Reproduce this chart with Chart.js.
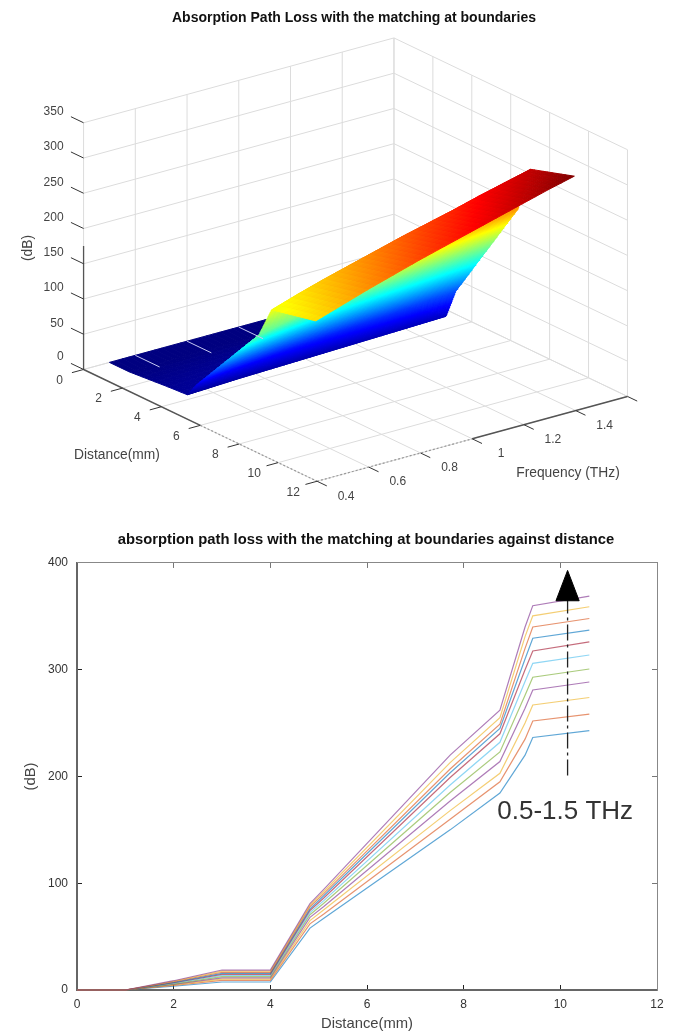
<!DOCTYPE html>
<html>
<head>
<meta charset="utf-8">
<title>Absorption Path Loss</title>
<script src="https://cdn.jsdelivr.net/npm/chart.js@4/dist/chart.umd.min.js"></script>
<style>
  html, body { margin: 0; padding: 0; background: #fff; width: 685px; height: 1033px; overflow: hidden; }
  canvas { position: absolute; left: 0; filter: blur(0.35px); }
  #surfaceChart { top: 0; }
  #lossChart { top: 510px; }
</style>
</head>
<body>
<canvas id="surfaceChart" width="708" height="510" style="width:708px;height:510px"></canvas>
<canvas id="lossChart" width="732" height="523" style="width:732px;height:523px"></canvas>
<script>
const surfaceDistance = [0, 1, 3, 4, 4.5, 7.7, 8.35, 10.6];
const surfaceFreq = [0.5, 0.6, 0.7, 0.8, 0.9, 1, 1.1, 1.2, 1.3, 1.4, 1.5];
const surfaceF05 = [0, 0, 5, 7, 28, 141, 185, 199];
const surfaceF06 = [0, 0, 6, 8.5, 33, 150, 197, 211];
const surfaceF07 = [0, 0, 7, 10, 37, 158, 208, 223];
const surfaceF08 = [0, 0, 8, 11, 41, 166, 218, 234];
const surfaceF09 = [0, 0, 9, 12, 44, 174, 228, 245];
const surfaceF10 = [0, 0, 9.5, 13, 47, 182, 238, 255];
const surfaceF11 = [0, 0, 10, 14, 50, 189, 247, 265];
const surfaceF12 = [0, 0, 10.5, 15, 52, 196, 256, 275];
const surfaceF13 = [0, 0, 11, 16, 55, 203, 266, 285];
const surfaceF14 = [0, 0, 11.5, 17, 58, 211, 275, 295];
const surfaceF15 = [0, 0, 12, 18, 60, 219, 284, 304];
const surfaceRows = [surfaceF05, surfaceF06, surfaceF07, surfaceF08, surfaceF09, surfaceF10,
  surfaceF11, surfaceF12, surfaceF13, surfaceF14, surfaceF15];

const zTicks = [0, 50, 100, 150, 200, 250, 300, 350];
const distanceTicks = [0, 2, 4, 6, 8, 10, 12];
const freqTicks = [0.4, 0.6, 0.8, 1, 1.2, 1.4, 1.6];

// ---- bottom plot: one array per frequency, lowest curve first ----
const lossDistance = [0, 1, 2, 3, 4, 4.82, 5.1, 7.72, 8.75, 9.27, 9.43, 10.6];
const loss05 = [0, 0, 3.5, 7.5, 7.5, 58, 67, 150, 184.5, 220, 236.5, 243];
const loss06 = [0, 0, 4.2, 9, 9, 62, 71, 160, 195, 235, 252, 258.4];
const loss07 = [0, 0, 4.8, 10.2, 10.2, 65, 75, 168, 203, 250, 267, 274];
const loss08 = [0, 0, 5.3, 11.4, 11.4, 68, 78, 177, 214, 264, 281, 288.5];
const loss09 = [0, 0, 5.8, 12.5, 12.5, 70.5, 81, 185, 223, 276, 293, 300.7];
const loss10 = [0, 0, 6.3, 13.6, 13.6, 72.5, 83.5, 192, 232, 289, 306, 313.8];
const loss11 = [0, 0, 6.8, 14.6, 14.6, 74.5, 86, 199, 240, 300, 317.6, 326];
const loss12 = [0, 0, 7.2, 15.6, 15.6, 76, 88, 203.5, 245, 310, 329.5, 337];
const loss13 = [0, 0, 7.7, 16.6, 16.6, 78, 90, 207, 249, 320, 340, 348];
const loss14 = [0, 0, 8.2, 17.6, 17.6, 79.5, 92, 213, 255, 331, 350.5, 359];
const loss15 = [0, 0, 8.7, 18.7, 18.7, 81, 94, 220, 262, 340, 360, 369];
const lossSeries = [loss05, loss06, loss07, loss08, loss09, loss10, loss11, loss12, loss13, loss14, loss15];
const lineColors = ['#0072BD', '#D95319', '#EDB120', '#7E2F8E', '#77AC30', '#4DBEEE', '#A2142F',
  '#0072BD', '#D95319', '#EDB120', '#7E2F8E'];

const arrowX = [10.15, 10.15];
const arrowY = [201, 365];
const arrowHeadX = [9.91, 10.15, 10.39];
const arrowHeadY = [364.6, 393, 364.6];

const LABEL_FONT = '"Liberation Sans", Arial, sans-serif';

// view of the 3D box: where the axes end up in the picture
const BOX = { x0: 83, y0: 370, dx: 19.5, dy: 9.33, fx: 259.2, fy: -70.8, zy: 0.706 };

function project(d, f, z) {
  return {
    x: BOX.x0 + d * BOX.dx + (f - 0.4) * BOX.fx,
    y: BOX.y0 + d * BOX.dy + (f - 0.4) * BOX.fy - z * BOX.zy
  };
}

function jet(t) {
  t = Math.max(0, Math.min(1, t));
  const ch = v => Math.round(255 * Math.max(0, Math.min(1, v)));
  return `rgb(${ch(1.5 - Math.abs(4 * t - 3))},${ch(1.5 - Math.abs(4 * t - 2))},${ch(1.5 - Math.abs(4 * t - 1))})`;
}

function segment(a, b, color, width, dash) {
  return {
    data: [a, b], showLine: true, borderColor: color, borderWidth: width,
    borderDash: dash || [], pointRadius: 0, fill: false
  };
}

function boxLines() {
  const out = [];
  const grid = '#dcdcdc';
  for (const z of zTicks) {
    out.push(segment(project(0, 0.4, z), project(0, 1.6, z), grid, 1));
    out.push(segment(project(0, 1.6, z), project(12, 1.6, z), grid, 1));
  }
  for (const f of freqTicks) {
    out.push(segment(project(0, f, 0), project(0, f, 350), grid, 1));
    out.push(segment(project(0, f, 0), project(12, f, 0), grid, 1));
  }
  for (const d of distanceTicks) {
    out.push(segment(project(d, 1.6, 0), project(d, 1.6, 350), grid, 1));
    out.push(segment(project(d, 0.4, 0), project(d, 1.6, 0), grid, 1));
  }
  return out;
}

// split every mesh cell so the colour runs smoothly with height; far cells first
function surfaceCells() {
  const out = [];
  const zMax = 304;
  const fSplit = 4;
  const lerp = (a, b, t) => a + (b - a) * t;
  const zAt = (r, j, s) => lerp(surfaceRows[r][j], surfaceRows[r][j + 1], s);
  for (let j = 0; j < surfaceDistance.length - 1; j++) {
    const rise = surfaceF15[j + 1] - surfaceF15[j];
    const dSplit = Math.max(1, Math.ceil(rise / 2));
    for (let k = 0; k < dSplit; k++) {
      const s0 = k / dSplit, s1 = (k + 1) / dSplit;
      const d0 = lerp(surfaceDistance[j], surfaceDistance[j + 1], s0);
      const d1 = lerp(surfaceDistance[j], surfaceDistance[j + 1], s1);
      for (let r = surfaceFreq.length - 2; r >= 0; r--) {
        for (let m = fSplit - 1; m >= 0; m--) {
          const u0 = m / fSplit, u1 = (m + 1) / fSplit;
          const f0 = lerp(surfaceFreq[r], surfaceFreq[r + 1], u0);
          const f1 = lerp(surfaceFreq[r], surfaceFreq[r + 1], u1);
          const z00 = lerp(zAt(r, j, s0), zAt(r + 1, j, s0), u0);
          const z01 = lerp(zAt(r, j, s0), zAt(r + 1, j, s0), u1);
          const z10 = lerp(zAt(r, j, s1), zAt(r + 1, j, s1), u0);
          const z11 = lerp(zAt(r, j, s1), zAt(r + 1, j, s1), u1);
          const color = jet((z00 + z01 + z10 + z11) / 4 / zMax);
          out.push({
            data: [project(d0, f0, z00), project(d0, f1, z01), project(d1, f1, z11), project(d1, f0, z10), project(d0, f0, z00)],
            showLine: true, borderColor: color, borderWidth: 1, backgroundColor: color,
            pointRadius: 0, fill: 'shape'
          });
        }
      }
    }
  }
  return out;
}

function axisLines() {
  const out = [];
  const dark = '#555';
  const light = '#999';
  out.push(segment(project(0, 0.4, 0), project(0, 0.4, 175), dark, 1.3));
  out.push(segment(project(0, 0.4, 0), project(6, 0.4, 0), dark, 1.5));
  out.push(segment(project(6, 0.4, 0), project(12, 0.4, 0), light, 1.2, [2, 2]));
  out.push(segment(project(12, 0.4, 0), project(12, 1, 0), light, 1.2, [2, 2]));
  out.push(segment(project(12, 1, 0), project(12, 1.6, 0), dark, 1.5));
  for (const z of zTicks) out.push(segment(project(0, 0.4, z), project(-0.65, 0.4, z), '#333', 1));
  for (const d of distanceTicks) out.push(segment(project(d, 0.4, 0), project(d, 0.355, 0), '#333', 1));
  for (const f of freqTicks) out.push(segment(project(12, f, 0), project(12.5, f, 0), '#333', 1));
  // floor grid poking through the flat part of the surface
  for (const f of [0.6, 0.8, 1]) out.push(segment(project(0, f, 0), project(1.25, f, 0), '#c5c8f2', 1));
  return out;
}

const surfaceLabels = {
  id: 'surfaceLabels',
  afterDraw(chart) {
    const { ctx, scales } = chart;
    const put = (text, p, dx, dy) => ctx.fillText(text, scales.x.getPixelForValue(p.x + dx), scales.y.getPixelForValue(p.y + dy));
    ctx.save();
    ctx.fillStyle = '#444';
    ctx.font = '12px ' + LABEL_FONT;
    ctx.textBaseline = 'middle';
    ctx.textAlign = 'right';
    for (const z of zTicks) put(String(z), project(0, 0.4, z), -20, z === 0 ? -13 : -11);
    ctx.textAlign = 'center';
    for (const d of distanceTicks) put(String(d), project(d, 0.4, 0), -24, 11);
    for (const f of freqTicks.slice(0, 6)) put(String(f), project(12, f, 0), 29, 15);
    ctx.font = '13.8px ' + LABEL_FONT;
    ctx.fillText('Distance(mm)', 117, 455);
    ctx.fillText('Frequency (THz)', 568, 473);
    ctx.translate(28, 248);
    ctx.rotate(-Math.PI / 2);
    ctx.fillText('(dB)', 0, 0);
    ctx.restore();
  }
};

const surfaceMarks = [...boxLines(), ...surfaceCells(), ...axisLines()].reverse();

const surfaceChart = new Chart(document.getElementById('surfaceChart'), {
  type: 'scatter',
  data: { datasets: surfaceMarks },
  options: {
    responsive: false,
    animation: false,
    events: [],
    layout: { padding: 0 },
    plugins: {
      legend: { display: false },
      tooltip: { enabled: false },
      title: {
        display: true,
        text: 'Absorption Path Loss with the matching at boundaries',
        color: '#111',
        font: { family: LABEL_FONT, size: 14, weight: 'bold' },
        padding: { top: 10, bottom: 8 }
      }
    },
    scales: {
      x: { type: 'linear', display: false, min: 0, max: 708 },
      y: { type: 'linear', display: false, reverse: true, min: 0, max: 510 }
    }
  },
  plugins: [surfaceLabels]
});
// view units are page pixels, so line the scales up with the chart area
surfaceChart.options.scales.y.min = surfaceChart.chartArea.top;
surfaceChart.options.scales.y.max = surfaceChart.chartArea.bottom;
surfaceChart.update('none');

// ---- bottom plot ----
const lossDatasets = lossSeries.map((values, i) => ({
  label: String(i),
  data: values.map((v, k) => ({ x: lossDistance[k], y: v })),
  showLine: true,
  borderColor: lineColors[i] + 'a0',
  borderWidth: 1.2,
  pointRadius: 0,
  clip: false,
  fill: false
}));

const arrowShaft = {
  data: arrowX.map((x, k) => ({ x, y: arrowY[k] })),
  showLine: true, borderColor: '#222', borderWidth: 1.3, borderDash: [16, 4, 3, 4],
  pointRadius: 0, fill: false
};
const arrowHead = {
  data: [...arrowHeadX.map((x, k) => ({ x, y: arrowHeadY[k] })), { x: arrowHeadX[0], y: arrowHeadY[0] }],
  showLine: true, borderColor: '#000', borderWidth: 1, backgroundColor: '#000',
  pointRadius: 0, fill: 'shape'
};

const rangeLabel = {
  id: 'rangeLabel',
  afterDraw(chart) {
    const { ctx, scales } = chart;
    ctx.save();
    ctx.fillStyle = '#333';
    ctx.font = '26px ' + LABEL_FONT;
    ctx.textAlign = 'center';
    ctx.textBaseline = 'middle';
    ctx.fillText('0.5-1.5 THz', scales.x.getPixelForValue(10.1), scales.y.getPixelForValue(166.7));
    ctx.restore();
  }
};

const inwardGrid = { drawOnChartArea: false, tickLength: -5, tickColor: '#222', tickWidth: 1 };
const pinHeight = h => scale => { scale.height = h; };
const pinWidth = w => scale => { scale.width = w; };

new Chart(document.getElementById('lossChart'), {
  type: 'scatter',
  data: { datasets: [arrowHead, arrowShaft, ...lossDatasets.slice().reverse()] },
  options: {
    responsive: false,
    animation: false,
    events: [],
    layout: { padding: { left: 0, right: 0, top: 0, bottom: 0 } },
    plugins: {
      legend: { display: false },
      tooltip: { enabled: false },
      title: {
        display: true,
        text: 'absorption path loss with the matching at boundaries against distance',
        color: '#111',
        font: { family: LABEL_FONT, size: 14.8, weight: 'bold' },
        padding: { top: 21, bottom: 14.2 }
      }
    },
    scales: {
      x: {
        type: 'linear', min: 0, max: 12, position: 'bottom',
        border: { color: '#666', width: 2 },
        grid: inwardGrid,
        ticks: { stepSize: 2, padding: 12, color: '#333', font: { family: LABEL_FONT, size: 12 }, maxRotation: 0 },
        title: { display: true, text: 'Distance(mm)', color: '#444', padding: 0, font: { family: LABEL_FONT, size: 14.8 } },
        afterFit: pinHeight(43)
      },
      y: {
        type: 'linear', min: 0, max: 400, position: 'left',
        border: { color: '#666', width: 2 },
        grid: inwardGrid,
        ticks: { stepSize: 100, padding: 14, color: '#333', font: { family: LABEL_FONT, size: 12 } },
        title: { display: true, text: '(dB)', color: '#444', padding: { top: 22, bottom: 0 }, font: { family: LABEL_FONT, size: 14.8 } },
        afterFit: pinWidth(77)
      },
      xTop: {
        type: 'linear', axis: 'x', min: 0, max: 12, position: 'top',
        border: { color: '#888', width: 1 },
        grid: { ...inwardGrid, tickColor: '#777' },
        ticks: { stepSize: 2, display: false },
        afterFit: pinHeight(0)
      },
      yRight: {
        type: 'linear', axis: 'y', min: 0, max: 400, position: 'right',
        border: { color: '#888', width: 1 },
        grid: { ...inwardGrid, tickColor: '#777' },
        ticks: { stepSize: 100, display: false },
        afterFit: pinWidth(75)
      }
    }
  },
  plugins: [rangeLabel]
});
</script>
</body>
</html>
